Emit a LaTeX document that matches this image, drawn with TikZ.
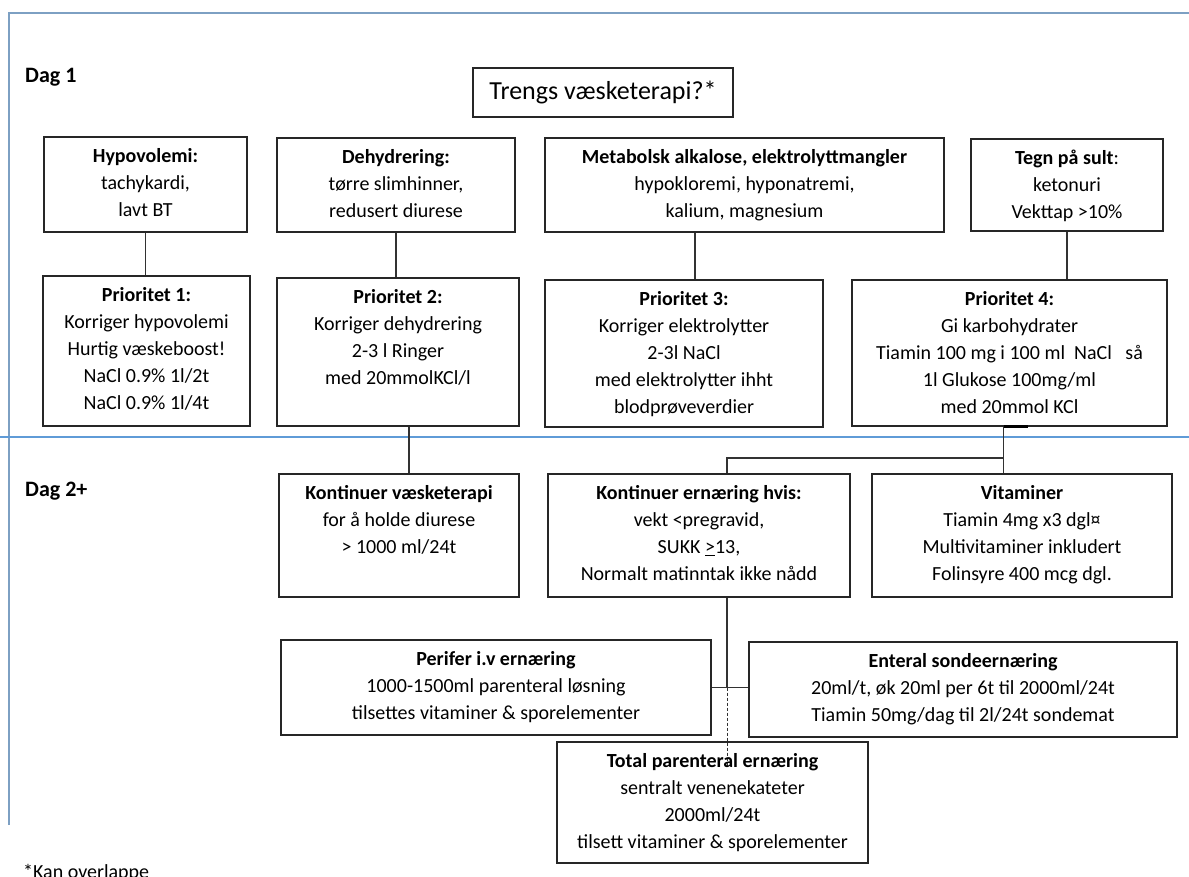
\documentclass[tikz,border=0pt]{standalone}
\usepackage{fontspec}
\setmainfont{Carlito}
\usepackage{xcolor}
\definecolor{FrameBlue}{RGB}{125,160,195}
\definecolor{DayBlue}  {RGB}{95, 155,215}
\definecolor{Wire}     {RGB}{50, 50, 50}
\usepackage{tikz}
\usetikzlibrary{calc, positioning}

\begin{document}
\begin{tikzpicture}[x=1pt, y=-1pt,
  tbox/.style = {draw=black!85, line width=1.3pt, inner sep=0pt},
  tlbl/.style = {anchor=north, inner sep=0pt, yshift=-7pt, align=center,
                 font=\fontsize{20}{27}\selectfont},
  wire/.style = {draw=Wire, line width=1.8pt},
  dlbl/.style = {anchor=base west, inner sep=0pt,
                 font=\fontsize{22}{26}\selectfont\bfseries}
]
  \useasboundingbox (0,0) rectangle (1189,877);

  %% Frame and day split
  \draw[FrameBlue, line width=2pt] (9,825) -- (9,13) -- (1189,13);
  \draw[DayBlue, line width=1.5pt] (0,437) -- (1189,437);

  \node[dlbl] (dag1) at (25,83)  {Dag 1};
  \node[dlbl] (dag2) at (25,496) {Dag 2+};

  %% Question
  \node[tbox, minimum width=260pt, minimum height=49pt,
        font=\fontsize{26}{30}\selectfont]
    (q) at (603,92.5) {Trengs væsketerapi?*};

  %% Dag 1 -- symptoms
  \node[tbox, minimum width=203pt, minimum height=95pt] (hypo) at (145.5,184.5) {};
  \node[tlbl] (hypo-t) at (hypo.north)
    {\strut\textbf{Hypovolemi:}\\tachykardi,\\lavt BT};

  \node[tbox, minimum width=238pt, minimum height=94pt] (dehy) at (396,185) {};
  \node[tlbl] (dehy-t) at (dehy.north)
    {\strut\textbf{Dehydrering:}\\tørre slimhinner,\\redusert diurese};

  \node[tbox, minimum width=399pt, minimum height=94pt] (meta) at (744.5,185) {};
  \node[tlbl] (meta-t) at (meta.north)
    {\strut\textbf{Metabolsk alkalose, elektrolyttmangler}\\hypokloremi, hyponatremi,\\kalium, magnesium};

  \node[tbox, minimum width=192pt, minimum height=92pt] (tegn) at (1067,185) {};
  \node[tlbl] (tegn-t) at (tegn.north)
    {\strut\textbf{Tegn på sult}:\\ketonuri\\Vekttap >10\%};

  %% Dag 1 -- priorities
  \node[tbox, minimum width=207pt, minimum height=150pt] (p1) at (146.5,351) {};
  \node[tlbl] (p1-t) at (p1.north)
    {\strut\textbf{Prioritet 1:}\\Korriger hypovolemi\\Hurtig væskeboost!\\NaCl 0.9\% 1l/2t\\NaCl 0.9\% 1l/4t};

  \node[tbox, minimum width=242pt, minimum height=148pt] (p2) at (398,352) {};
  \node[tlbl] (p2-t) at (p2.north)
    {\strut\textbf{Prioritet 2:}\\Korriger dehydrering\\2-3 l Ringer\\med 20mmolKCl/l};

  \node[tbox, minimum width=278pt, minimum height=147pt] (p3) at (684,353.5) {};
  \node[tlbl] (p3-t) at (p3.north)
    {\strut\textbf{Prioritet 3:}\\Korriger elektrolytter\\2-3l NaCl\\med elektrolytter ihht\\blodprøveverdier};

  \node[tbox, minimum width=315pt, minimum height=146pt] (p4) at (1009.5,353) {};
  \node[tlbl] (p4-t) at (p4.north)
    {\strut\textbf{Prioritet 4:}\\Gi karbohydrater\\Tiamin 100 mg i 100 ml\ \ NaCl\ \ \ så\\1l Glukose 100mg/ml\\med 20mmol KCl};

  %% Dag 2+
  \node[tbox, minimum width=240pt, minimum height=123pt] (kv) at (399,535.5) {};
  \node[tlbl] (kv-t) at (kv.north)
    {\strut\textbf{Kontinuer væsketerapi}\\for å holde diurese\\> 1000 ml/24t};

  \node[tbox, minimum width=302pt, minimum height=123pt] (ke) at (699,535.5) {};
  \node[tlbl] (ke-t) at (ke.north)
    {\strut\textbf{Kontinuer ernæring hvis:}\\vekt <pregravid,\\SUKK \underline{>}13,\\Normalt matinntak ikke nådd};

  \node[tbox, minimum width=300pt, minimum height=123pt] (vit) at (1022,535.5) {};
  \node[tlbl] (vit-t) at (vit.north)
    {\strut\textbf{Vitaminer}\\Tiamin 4mg x3 dgl¤\\Multivitaminer inkludert\\Folinsyre 400 mcg dgl.};

  \node[tbox, minimum width=430pt, minimum height=95pt] (peri) at (496,687.5) {};
  \node[tlbl] (peri-t) at (peri.north)
    {\strut\textbf{Perifer i.v ernæring}\\1000-1500ml parenteral løsning\\tilsettes vitaminer \& sporelementer};

  \node[tbox, minimum width=428pt, minimum height=95pt] (ent) at (963,689.5) {};
  \node[tlbl] (ent-t) at (ent.north)
    {\strut\textbf{Enteral sondeernæring}\\20ml/t, øk 20ml per 6t til 2000ml/24t\\Tiamin 50mg/dag til 2l/24t sondemat};

  \node[tbox, minimum width=311pt, minimum height=121pt] (tpn) at (712.5,802.5) {};

  %% Connectors
  \draw[wire] (hypo.south) -- (hypo.south |- p1.north);
  \draw[wire] (dehy.south) -- (dehy.south |- p2.north);
  \draw[wire] ([xshift=11pt]p3.north |- meta.south) -- ([xshift=11pt]p3.north);
  \draw[wire] (tegn.south) -- (tegn.south |- p4.north);
  \draw[wire] ([xshift=11pt]p2.south) -- ([xshift=11pt]p2.south |- kv.north);

  \coordinate (j4)    at ([xshift=-6pt]p4.south);
  \coordinate (split) at ($(j4)+(0,31)$);
  \coordinate (jke)   at ([xshift=28pt]ke.north);
  \coordinate (jkb)   at ([xshift=28pt]ke.south);
  \coordinate (jpe)   at (jkb |- peri.east);
  \draw[line width=2.5pt] (j4) -- ++(24,0);
  \draw[wire] (j4) -- (j4 |- vit.north);
  \draw[wire] (split) -| (jke);
  \draw[wire] (jkb) -- (jpe);
  \draw[wire] (peri.east) -- (peri.east -| ent.west);
  \draw[wire, line width=1pt, densely dashed] (jpe) -- ($(jpe |- tpn.north)+(0,26)$);

  \node[tlbl] (tpn-t) at (tpn.north)
    {\strut\textbf{Total parenteral ernæring}\\sentralt venenekateter\\2000ml/24t\\tilsett vitaminer \& sporelementer};

  %% Footnote
  \node[anchor=base west, inner sep=0pt, font=\fontsize{20}{24}\selectfont]
    (note) at (23,878) {*Kan overlappe};
\end{tikzpicture}
\end{document}
